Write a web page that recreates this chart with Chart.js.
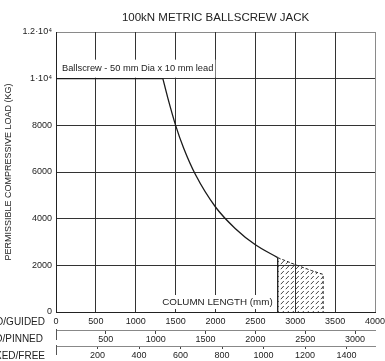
<!DOCTYPE html>
<html>
<head>
<meta charset="utf-8">
<script src="https://cdn.jsdelivr.net/npm/chart.js@4/dist/chart.umd.min.js"></script>
<style>
html,body{margin:0;padding:0;background:#fff;}
#wrap{width:385px;height:361px;position:relative;}
</style>
</head>
<body>
<div id="wrap"><canvas id="c" width="385" height="361"></canvas></div>
<script>
// ---- data ----
const flatLength = [0, 1340];
const flatLoad = [10000, 10000];
const curveLength = [1340, 1400, 1500, 1600, 1750, 2000, 2250, 2500, 2780];
const curveLoad = [10000, 9200, 8000, 7030, 5880, 4500, 3570, 2880, 2330];
const edgeLength = [2780, 2780];
const edgeLoad = [0, 2330];
const hatchLength = [2780, 3000, 3200, 3350, 3350];
const hatchLoad = [2330, 2030, 1780, 1610, 0];

const yTickValues = [0, 2000, 4000, 6000, 8000, 10000, 12000];
const yTickText = ['0', '2000', '4000', '6000', '8000', '1·10⁴', '1.2·10⁴'];
const guidedTicks = [0, 500, 1000, 1500, 2000, 2500, 3000, 3500, 4000];
const pinnedTicks = [0, 500, 1000, 1500, 2000, 2500, 3000];
const freeTicks = [0, 200, 400, 600, 800, 1000, 1200, 1400];
const axisNames = ['FIXED/GUIDED', 'PINNED/PINNED', 'FIXED/FREE'];
const titleText = '100kN METRIC BALLSCREW JACK';
const yTitle = 'PERMISSIBLE COMPRESSIVE LOAD (KG)';
const curveNote = 'Ballscrew - 50 mm Dia x 10 mm lead';
const lengthNote = 'COLUMN LENGTH (mm)';

const FONT = "'Liberation Sans', Arial, sans-serif";
const pts = (xs, ys) => xs.map((x, i) => ({x: x, y: ys[i]}));

// hatch pattern
const tile = document.createElement('canvas');
tile.width = 5; tile.height = 5;
const tc = tile.getContext('2d');
tc.strokeStyle = '#333'; tc.lineWidth = 0.9;
tc.beginPath(); tc.moveTo(0.8, 4.2); tc.lineTo(3.8, 1.0); tc.stroke();
const hatch = document.getElementById('c').getContext('2d').createPattern(tile, 'repeat');

const GRID = '#333';
const EDGE = '#8a8a8a';
const TXT = '#222';

const notes = {
  id: 'notes',
  afterDatasetsDraw(chart) {
    const ctx = chart.ctx, xs = chart.scales.x, ys = chart.scales.y;
    ctx.save();
    ctx.font = '9.3px ' + FONT;
    ctx.textBaseline = 'middle';
    let tx = xs.getPixelForValue(0) + 6;
    let ty = ys.getPixelForValue(10000) - 10;
    let w = ctx.measureText(curveNote).width;
    ctx.fillStyle = '#fff';
    ctx.fillRect(tx - 4, ty - 9, w + 6, 18);
    ctx.fillStyle = TXT; ctx.textAlign = 'left';
    ctx.fillText(curveNote, tx, ty);
    ctx.font = '9.8px ' + FONT;
    w = ctx.measureText(lengthNote).width;
    tx = xs.getPixelForValue(2780) - 5;
    ty = ys.getPixelForValue(0) - 10;
    ctx.fillStyle = '#fff';
    ctx.fillRect(tx - w - 3, ty - 7, w + 5, 14);
    ctx.fillStyle = TXT; ctx.textAlign = 'right';
    ctx.fillText(lengthNote, tx, ty);
    ctx.restore();
  },
  afterDraw(chart) {
    const ctx = chart.ctx;
    ctx.save();
    ctx.font = '10px ' + FONT;
    ctx.fillStyle = TXT; ctx.textAlign = 'right'; ctx.textBaseline = 'middle';
    const rightEdges = [45, 43, 45];
    ['x', 'x2', 'x3'].forEach((id, i) => {
      const s = chart.scales[id];
      const tl = s.options.grid.drawTicks ? s.options.grid.tickLength : 0;
      const cy = s.top + tl + s.options.ticks.padding + 5.4;
      ctx.fillText(axisNames[i], rightEdges[i], cy);
      if (i > 0) {
        const px = Math.round(s.getPixelForValue(0)) + 0.5;
        ctx.strokeStyle = '#555'; ctx.lineWidth = 1;
        ctx.beginPath(); ctx.moveTo(px, s.top - 1); ctx.lineTo(px, s.top + (i === 1 ? 10 : 9)); ctx.stroke();
      }
    });
    ctx.restore();
  }
};

const lineDs = (data, extra) => Object.assign({
  data: data, borderColor: '#1a1a1a', borderWidth: 1.3, pointRadius: 0,
  fill: false, tension: 0, xAxisID: 'x', yAxisID: 'y'
}, extra || {});

const fixedTicks = (arr) => (s) => { s.ticks = arr.map(v => ({value: v})); };
const plain = (v) => String(v);
const noZero = (v) => v === 0 ? '' : String(v);

new Chart(document.getElementById('c'), {
  type: 'line',
  data: {
    datasets: [
      lineDs(pts(hatchLength, hatchLoad), {borderWidth: 1, borderDash: [3, 2], fill: 'origin', backgroundColor: hatch, borderColor: '#222'}),
      lineDs(pts(flatLength, flatLoad)),
      lineDs(pts(curveLength, curveLoad), {cubicInterpolationMode: 'monotone'}),
      lineDs(pts(edgeLength, edgeLoad))
    ]
  },
  plugins: [notes],
  options: {
    responsive: false,
    animation: false,
    devicePixelRatio: 1,
    layout: {padding: 0},
    plugins: {
      legend: {display: false},
      tooltip: {enabled: false},
      title: {
        display: true, text: titleText, fullSize: false, color: TXT,
        font: {family: FONT, size: 11.5, weight: 'normal'},
        padding: {top: 11, bottom: 7.2}
      }
    },
    scales: {
      y: {
        type: 'linear', position: 'left', min: 0, max: 12000,
        afterBuildTicks: fixedTicks(yTickValues),
        afterFit(s) { s.width = 56; },
        ticks: {
          padding: 4, color: TXT, font: {family: FONT, size: 9},
          callback: (v) => { const i = yTickValues.indexOf(v); return i >= 0 ? yTickText[i] : ''; }
        },
        grid: {color: (c) => (c.tick && c.tick.value === 12000) ? EDGE : GRID, lineWidth: 1, drawTicks: false},
        border: {display: true, color: '#222', width: 1},
        title: {display: true, text: yTitle, color: TXT, font: {family: FONT, size: 9}, padding: {top: 3.6, bottom: 0}}
      },
      x: {
        type: 'linear', position: 'bottom', min: 0, max: 4000,
        afterBuildTicks: fixedTicks(guidedTicks),
        afterFit(s) { s.height = 18; s.paddingRight = 10; s.paddingLeft = 0; },
        ticks: {padding: 4.6, color: TXT, font: {family: FONT, size: 9}, maxRotation: 0, autoSkip: false, callback: plain},
        grid: {color: (c) => (c.tick && c.tick.value === 4000) ? EDGE : GRID, lineWidth: 1, drawTicks: false},
        border: {display: true, color: '#222', width: 1}
      },
      x2: {
        type: 'linear', position: 'bottom', min: 0, max: 3200,
        afterBuildTicks: fixedTicks(pinnedTicks),
        afterFit(s) { s.height = 16; s.paddingRight = 10; s.paddingLeft = 0; },
        ticks: {padding: 0, color: TXT, font: {family: FONT, size: 9}, maxRotation: 0, autoSkip: false, callback: noZero},
        grid: {drawOnChartArea: false, drawTicks: true, tickLength: 4, color: '#444', tickColor: '#444'},
        border: {display: true, color: '#888', width: 1}
      },
      x3: {
        type: 'linear', position: 'bottom', min: 0, max: 1537,
        afterBuildTicks: fixedTicks(freeTicks),
        afterFit(s) { s.height = 15; s.paddingRight = 10; s.paddingLeft = 0; },
        ticks: {padding: 1.5, color: TXT, font: {family: FONT, size: 9}, maxRotation: 0, autoSkip: false, callback: noZero},
        grid: {drawOnChartArea: false, drawTicks: true, tickLength: 3, color: '#444', tickColor: '#444'},
        border: {display: true, color: '#888', width: 1}
      }
    }
  }
});
</script>
</body>
</html>
